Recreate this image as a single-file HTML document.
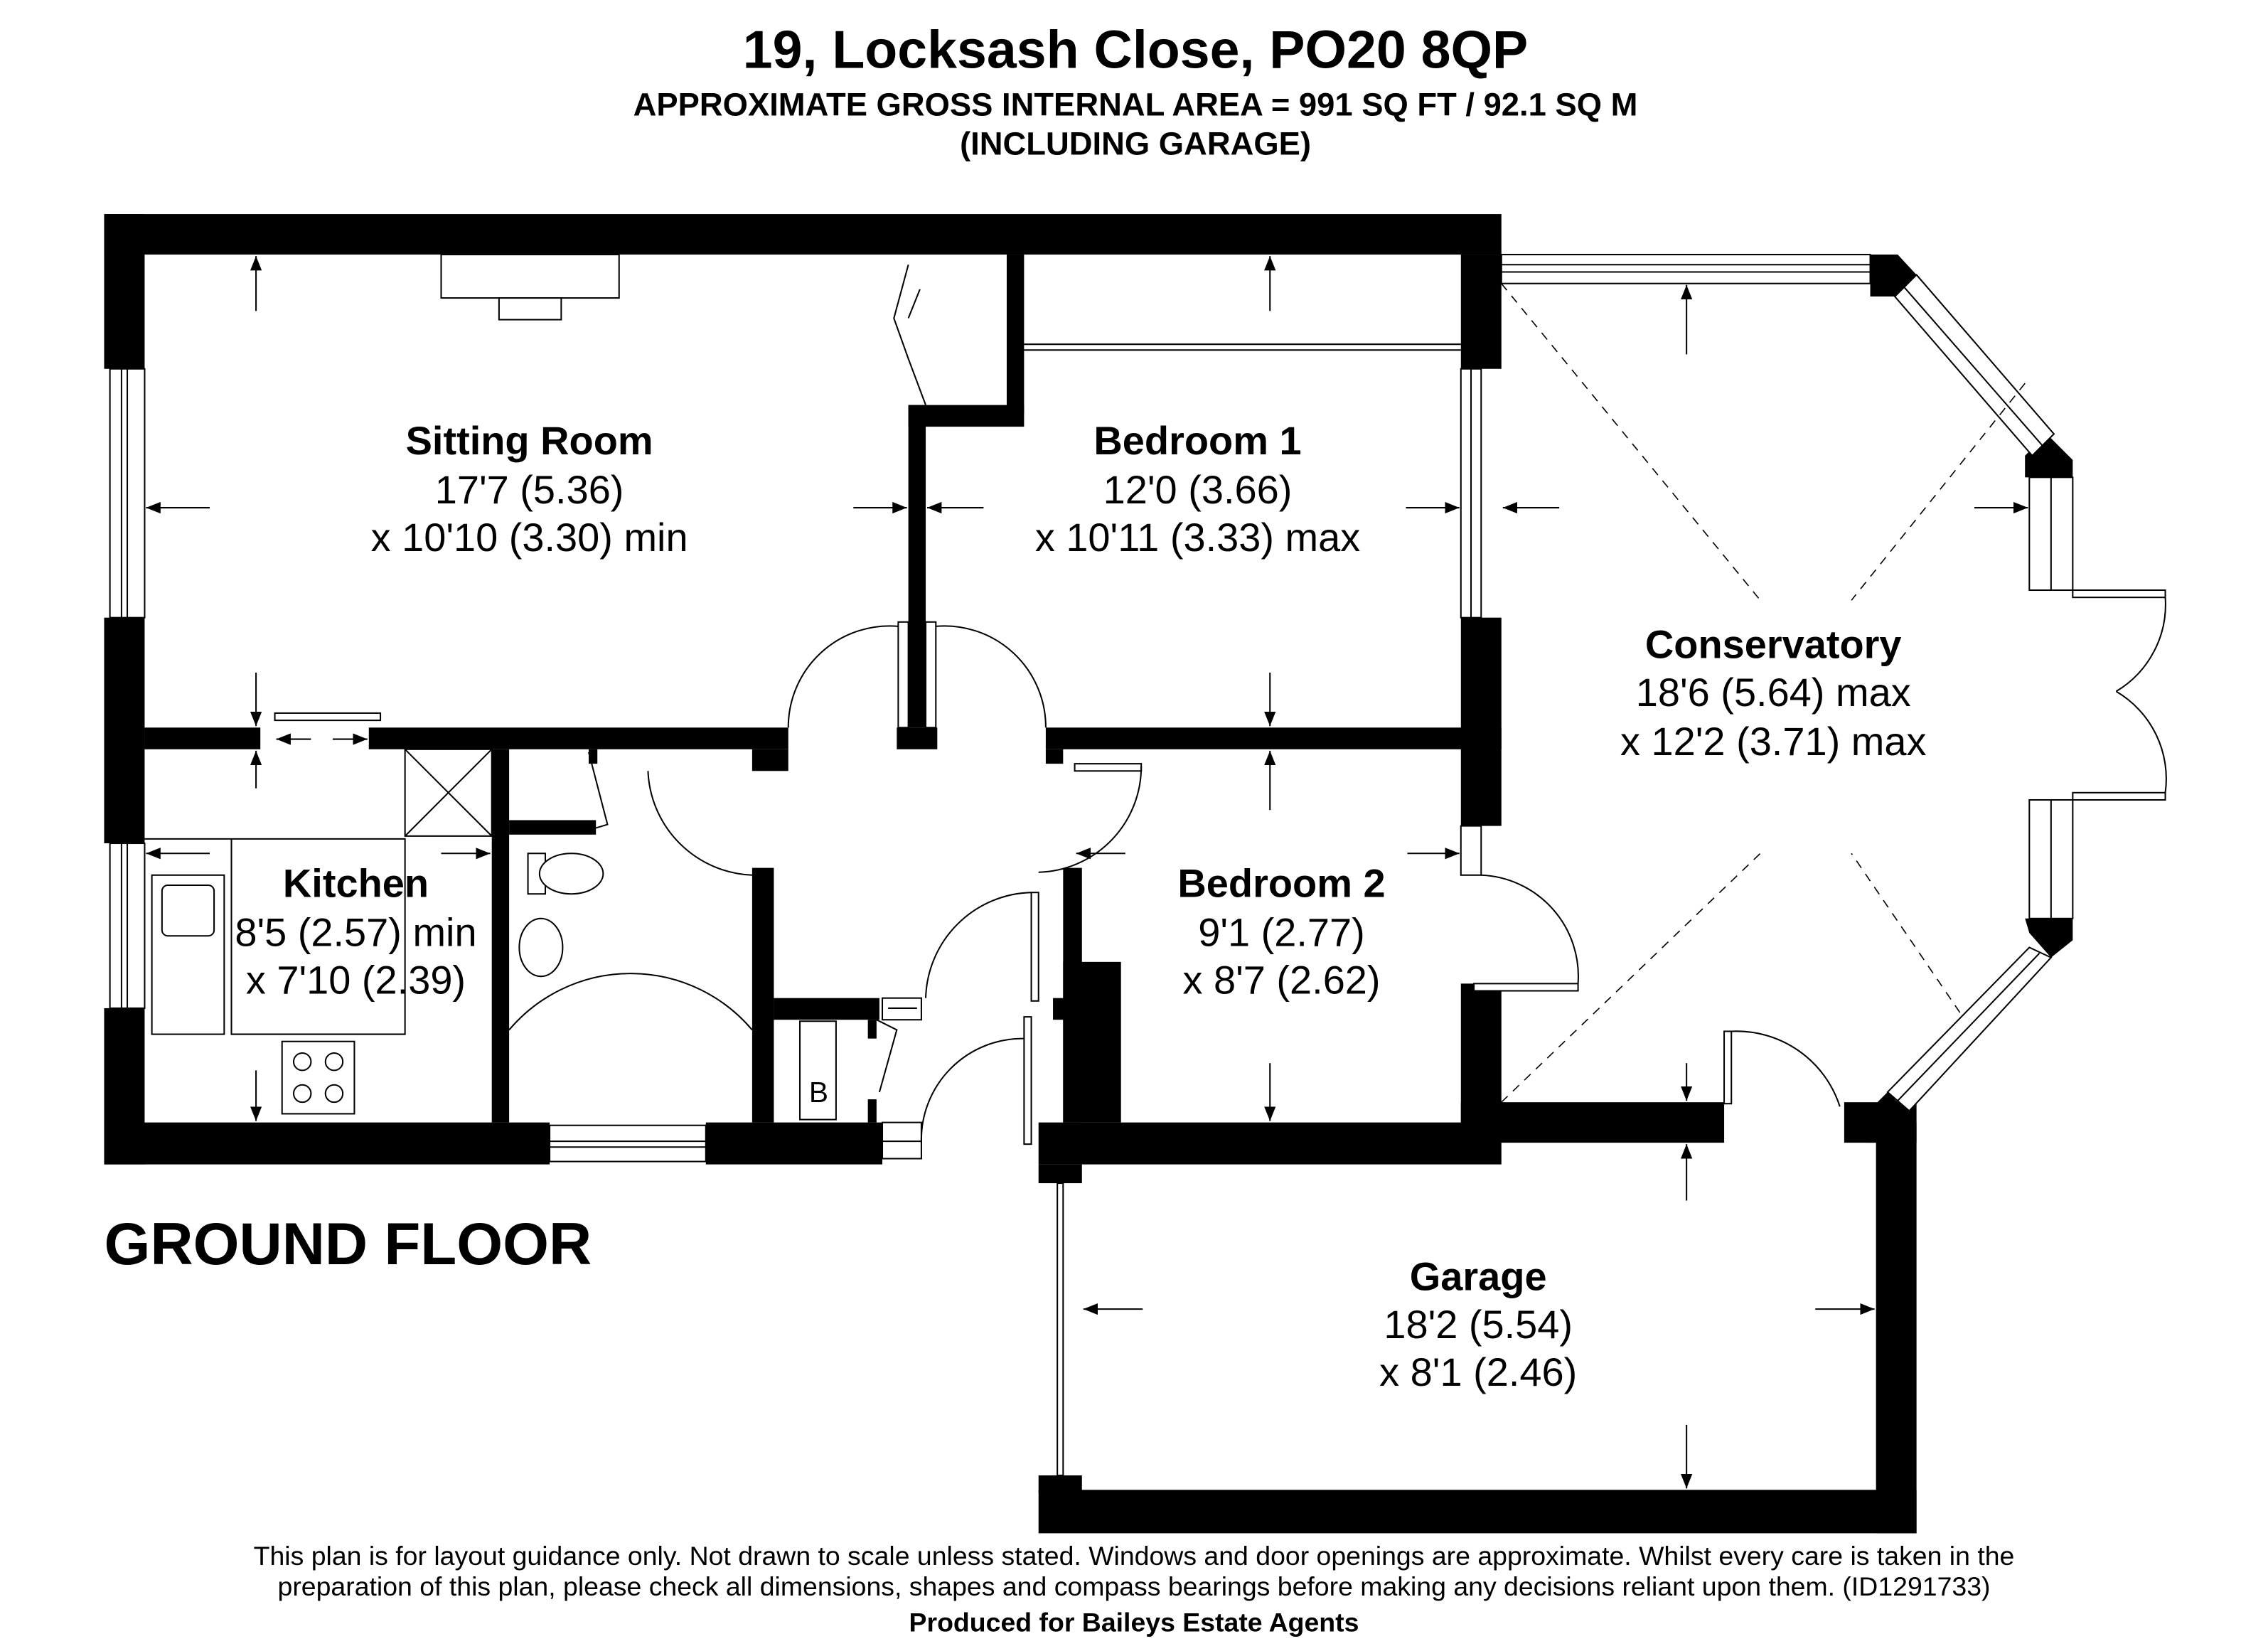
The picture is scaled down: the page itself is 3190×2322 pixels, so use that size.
<!DOCTYPE html>
<html><head><meta charset="utf-8"><style>
html,body{margin:0;padding:0;background:#fff}
svg{display:block}
text{font-family:"Liberation Sans",Arial,sans-serif;fill:#000}
</style></head><body>
<svg width="3190" height="2322" viewBox="0 0 1568 1141.4" preserveAspectRatio="none" xmlns="http://www.w3.org/2000/svg">
<defs>
<marker id="a" markerWidth="10" markerHeight="8" refX="10" refY="4" orient="auto" markerUnits="userSpaceOnUse"><path d="M0,0 L10,4 L0,8 z" fill="#000"/></marker>
</defs>
<text x="785" y="47" font-size="37" font-weight="bold" text-anchor="middle">19, Locksash Close, PO20 8QP</text>
<text x="785" y="80" font-size="22.3" font-weight="bold" text-anchor="middle">APPROXIMATE GROSS INTERNAL AREA = 991 SQ FT / 92.1 SQ M</text>
<text x="785" y="107" font-size="22.3" font-weight="bold" text-anchor="middle">(INCLUDING GARAGE)</text>

<g fill="#000">
<rect x="72" y="148" width="966" height="28"/>
<rect x="72" y="148" width="28" height="107"/>
<rect x="72" y="427" width="28" height="156"/>
<rect x="72" y="697" width="28" height="108"/>
<rect x="72" y="776" width="308" height="29"/>
<rect x="488" y="776" width="122" height="29"/>
<rect x="718" y="776" width="320" height="29"/>
<rect x="718" y="805" width="30" height="13"/>
<rect x="1010" y="176" width="28" height="79"/>
<rect x="1010" y="427" width="28" height="144"/>
<rect x="1010" y="680" width="28" height="96"/>
<rect x="100" y="503" width="80" height="15"/>
<rect x="255" y="503" width="290" height="15"/>
<rect x="696" y="176" width="12" height="110"/>
<rect x="628" y="280" width="80" height="15"/>
<rect x="628" y="280" width="12" height="223"/>
<rect x="620" y="503" width="28" height="15"/>
<rect x="723" y="503" width="315" height="15"/>
<rect x="723" y="518" width="12" height="10"/>
<rect x="340" y="518" width="12" height="258"/>
<rect x="352" y="567" width="60" height="10"/>
<rect x="407" y="518" width="6" height="10"/>
<rect x="520" y="518" width="25" height="15"/>
<rect x="520" y="600" width="15" height="176"/>
<rect x="535" y="690" width="73" height="15"/>
<rect x="600" y="705" width="6" height="13"/>
<rect x="600" y="760" width="6" height="16"/>
<rect x="735" y="600" width="13" height="176"/>
<rect x="735" y="665" width="40" height="111"/>
<rect x="728" y="690" width="10" height="15"/>
<rect x="1010" y="762" width="182" height="28"/>
<rect x="1275" y="762" width="50" height="28"/>
<rect x="1297" y="776" width="28" height="284"/>
<rect x="718" y="1030" width="607" height="30"/>
<rect x="718" y="1020" width="30" height="12"/>
<polygon points="1293,176 1312,176 1325,190 1310,205 1293,205"/>
<polygon points="1415,300 1433,318 1433,330 1400,330 1400,315"/>
<polygon points="1400,635 1433,635 1433,650 1418,662 1403,645"/>
<polygon points="1290,770 1305,755 1320,770 1320,790 1290,790"/>
</g>

<g fill="#fff" stroke="#000" stroke-width="1">
<rect x="76" y="255" width="24" height="172"/><line x1="84" y1="255" x2="84" y2="427"/><line x1="88" y1="255" x2="88" y2="427"/>
<rect x="76" y="583" width="24" height="114"/><line x1="84" y1="583" x2="84" y2="697"/><line x1="88" y1="583" x2="88" y2="697"/>
<rect x="380" y="778" width="108" height="25"/><line x1="380" y1="789" x2="488" y2="789"/><line x1="380" y1="793" x2="488" y2="793"/>
<rect x="610" y="776" width="27" height="25"/><line x1="610" y1="789" x2="637" y2="789"/>
<rect x="610" y="690" width="27" height="15"/><line x1="614" y1="697" x2="634" y2="697"/>
<rect x="1010" y="255" width="14" height="172"/><line x1="1017" y1="255" x2="1017" y2="427"/>
<rect x="1010" y="571" width="14" height="34"/>
<rect x="1038" y="176" width="255" height="20"/><line x1="1038" y1="183" x2="1293" y2="183"/><line x1="1038" y1="188" x2="1293" y2="188"/>
<polygon points="1310,205 1325,190 1420,300 1405,315"/>
<line x1="1316" y1="198" x2="1412" y2="308"/>
<rect x="1403" y="330" width="30" height="78"/><line x1="1418" y1="330" x2="1418" y2="408"/>
<rect x="1403" y="553" width="30" height="82"/><line x1="1418" y1="553" x2="1418" y2="635"/>
<polygon points="1305,755 1403,655 1418,662 1320,768"/>
<line x1="1311" y1="762" x2="1410" y2="659"/>
<rect x="305" y="176" width="123" height="30"/>
<rect x="345" y="206" width="43" height="15"/>
<rect x="190" y="493" width="73" height="5"/>
<polyline points="100,580 280,580 280,715 160,715 160,580" fill="none"/>
<rect x="280" y="518" width="60" height="60"/>
<line x1="280" y1="518" x2="340" y2="578"/><line x1="340" y1="518" x2="280" y2="578"/>
<rect x="105" y="605" width="50" height="110"/>
<rect x="112" y="612" width="36" height="35" rx="4"/>
<rect x="195" y="720" width="50" height="50"/>
<circle cx="209" cy="734" r="6"/><circle cx="231" cy="734" r="6"/><circle cx="209" cy="756" r="6"/><circle cx="231" cy="756" r="6"/>
<rect x="365" y="590" width="12" height="28"/>
<ellipse cx="395" cy="604" rx="22" ry="14"/>
<ellipse cx="374" cy="655" rx="15" ry="20"/>
<rect x="553" y="706" width="25" height="68"/>
<line x1="708" y1="238" x2="1010" y2="238"/><line x1="708" y1="242" x2="1010" y2="242"/>
<rect x="731" y="818" width="4" height="202"/>
<rect x="621" y="430" width="7" height="73"/>
<rect x="640" y="430" width="7" height="73"/>
<rect x="743" y="528" width="46" height="5"/>
<rect x="713" y="617" width="5" height="75"/>
<rect x="708" y="703" width="5" height="88"/>
<rect x="1019" y="680" width="72" height="5"/>
<rect x="1192" y="713" width="5" height="50"/>
<rect x="1433" y="408" width="64" height="5"/>
<rect x="1433" y="548" width="64" height="5"/>
</g>

<g fill="none" stroke="#000" stroke-width="1">
<path d="M545,503 A70,70 0 0 1 621,433"/>
<path d="M647,433 A70,70 0 0 1 723,503"/>
<path d="M789,530 A73,73 0 0 1 718,603"/>
<path d="M448,533 A75,75 0 0 0 520,605"/>
<path d="M1024,605 A70,70 0 0 1 1091,680"/>
<path d="M713,617 A75,75 0 0 0 640,690"/>
<path d="M708,718 A70,70 0 0 0 637,790"/>
<path d="M1197,713 A75,75 0 0 1 1272,765"/>
<path d="M1497,413 A70,70 0 0 1 1463,478"/>
<path d="M1497,548 A70,70 0 0 0 1463,478"/>
<path d="M407,520 L420,570 L410,573"/>
<path d="M606,705 L620,712 L608,755"/>
<path d="M352,712 A110,110 0 0 1 520,712"/>
<path d="M628,183 L618,220 L628,248 M628,248 L640,280 M628,220 L636,200"/>
</g>
<g fill="none" stroke="#000" stroke-width="0.8" stroke-dasharray="6,5">
<line x1="1038" y1="196" x2="1217" y2="415"/>
<line x1="1400" y1="265" x2="1280" y2="415"/>
<line x1="1038" y1="762" x2="1217" y2="590"/>
<line x1="1355" y1="700" x2="1280" y2="590"/>
</g>

<text x="566" y="762" font-size="20" text-anchor="middle">B</text>

<g stroke="#000" stroke-width="1" marker-end="url(#a)">
<line x1="177" y1="215" x2="177" y2="177"/>
<line x1="177" y1="465" x2="177" y2="502"/>
<line x1="145" y1="351" x2="101" y2="351"/>
<line x1="590" y1="351" x2="627" y2="351"/>
<line x1="878" y1="215" x2="878" y2="177"/>
<line x1="878" y1="465" x2="878" y2="502"/>
<line x1="680" y1="351" x2="641" y2="351"/>
<line x1="972" y1="351" x2="1009" y2="351"/>
<line x1="145" y1="590" x2="101" y2="590"/>
<line x1="305" y1="590" x2="339" y2="590"/>
<line x1="177" y1="545" x2="177" y2="519"/>
<line x1="177" y1="740" x2="177" y2="775"/>
<line x1="215" y1="511" x2="191" y2="511"/>
<line x1="230" y1="511" x2="254" y2="511"/>
<line x1="878" y1="560" x2="878" y2="519"/>
<line x1="878" y1="735" x2="878" y2="775"/>
<line x1="778" y1="590" x2="744" y2="590"/>
<line x1="973" y1="590" x2="1009" y2="590"/>
<line x1="1166" y1="245" x2="1166" y2="197"/>
<line x1="1166" y1="735" x2="1166" y2="761"/>
<line x1="1078" y1="351" x2="1039" y2="351"/>
<line x1="1365" y1="351" x2="1402" y2="351"/>
<line x1="1166" y1="830" x2="1166" y2="791"/>
<line x1="1166" y1="985" x2="1166" y2="1029"/>
<line x1="790" y1="905" x2="749" y2="905"/>
<line x1="1255" y1="905" x2="1296" y2="905"/>
</g>

<g font-size="27.5" text-anchor="middle">
<text x="366" y="314" font-weight="bold">Sitting Room</text>
<text x="366" y="348">17'7 (5.36)</text>
<text x="366" y="381">x 10'10 (3.30) min</text>
<text x="828" y="314" font-weight="bold">Bedroom 1</text>
<text x="828" y="348">12'0 (3.66)</text>
<text x="828" y="381">x 10'11 (3.33) max</text>
<text x="246" y="620" font-weight="bold">Kitchen</text>
<text x="246" y="654">8'5 (2.57) min</text>
<text x="246" y="687">x 7'10 (2.39)</text>
<text x="886" y="620" font-weight="bold">Bedroom 2</text>
<text x="886" y="654">9'1 (2.77)</text>
<text x="886" y="687">x 8'7 (2.62)</text>
<text x="1226" y="455" font-weight="bold">Conservatory</text>
<text x="1226" y="488">18'6 (5.64) max</text>
<text x="1226" y="522">x 12'2 (3.71) max</text>
<text x="1022" y="892" font-weight="bold">Garage</text>
<text x="1022" y="925">18'2 (5.54)</text>
<text x="1022" y="958">x 8'1 (2.46)</text>
</g>
<text x="72" y="874" font-size="41" font-weight="bold">GROUND FLOOR</text>
<g font-size="18.4" text-anchor="middle">
<text x="784" y="1082">This plan is for layout guidance only. Not drawn to scale unless stated. Windows and door openings are approximate. Whilst every care is taken in the</text>
<text x="784" y="1103">preparation of this plan, please check all dimensions, shapes and compass bearings before making any decisions reliant upon them. (ID1291733)</text>
<text x="784" y="1128" font-weight="bold">Produced for Baileys Estate Agents</text>
</g>
</svg>
</body></html>
